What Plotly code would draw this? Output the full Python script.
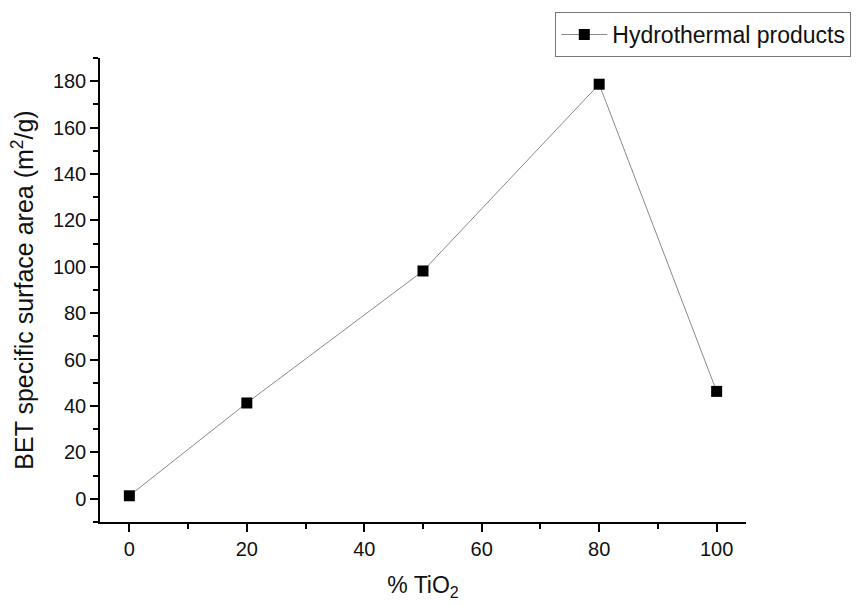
import plotly.graph_objects as go

tio2_percent = [0, 20, 50, 80, 100]
bet_area = [1.3, 41.3, 98.2, 178.7, 46.3]
series_name = "Hydrothermal products"

fig = go.Figure()
fig.add_trace(go.Scatter(
    x=tio2_percent, y=bet_area, mode="lines+markers", name=series_name,
    line=dict(color="#8a8a8a", width=1),
    marker=dict(symbol="square", size=11, color="black", line=dict(width=0)),
))

font_family = "Liberation Sans, Arial, sans-serif"

def axis_style():
    return dict(
        showline=True, linecolor="black", linewidth=1.5, mirror=False,
        ticks="outside", ticklen=8, tickwidth=1.5, tickcolor="black",
        showgrid=False, zeroline=False,
        tickfont=dict(family=font_family, size=20, color="#111111"),
        minor=dict(ticks="outside", ticklen=5, tickwidth=1.5, tickcolor="black", dtick=10),
    )

fig.update_xaxes(range=[-5, 105], tick0=0, dtick=20,
                 title=dict(text="% TiO<sub>2</sub>", font=dict(family=font_family, size=23, color="#111111"), standoff=18),
                 **axis_style())
fig.update_yaxes(range=[-10, 190], tick0=0, dtick=20,
                 title=dict(text="BET specific surface area (m<sup>2</sup>/g)", font=dict(family=font_family, size=25, color="#111111"), standoff=12),
                 **axis_style())

fig.update_layout(
    width=864, height=606,
    margin=dict(l=100, r=118, t=55, b=76),
    paper_bgcolor="white", plot_bgcolor="white",
    showlegend=True,
    legend=dict(x=1.163, y=1.099, xanchor="right", yanchor="top",
                bordercolor="#777777", borderwidth=1, bgcolor="white",
                font=dict(family=font_family, size=23, color="#111111"),
                tracegroupgap=0, itemwidth=46),
)

fig.write_html("out.html")
